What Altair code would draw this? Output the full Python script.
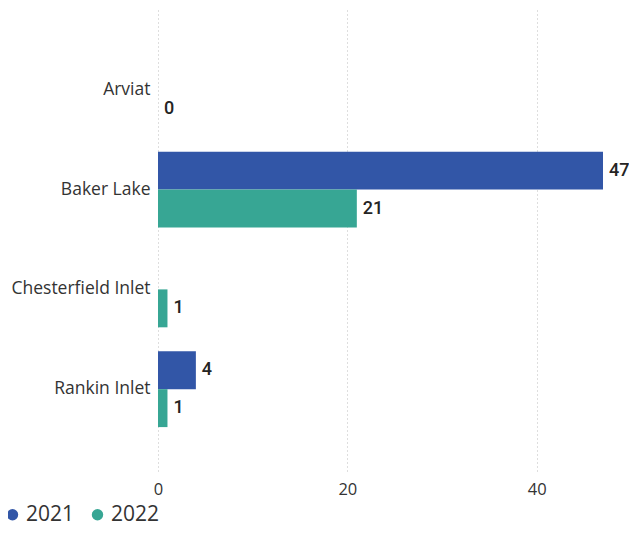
import altair as alt
import pandas as pd

towns = ["Arviat", "Baker Lake", "Chesterfield Inlet", "Rankin Inlet"]
years = ["2021", "2022"]
v2021 = [None, 47, None, 4]
v2022 = [0, 21, 1, 1]
x_ticks = [0, 20, 40]
colors = ["#3256A7", "#37A694"]

rows = []
for t, a, b in zip(towns, v2021, v2022):
    if a is not None:
        rows.append({"town": t, "year": "2021", "value": a})
    if b is not None:
        rows.append({"town": t, "year": "2022", "value": b})
df = pd.DataFrame(rows)

font = "Open Sans"

y = alt.Y("town:N", sort=towns, title=None,
          scale=alt.Scale(paddingInner=0.24, paddingOuter=0.44),
          axis=alt.Axis(domain=False, ticks=False, labelFontSize=17.5, labelColor="#333333",
                        labelFont=font, labelPadding=8, grid=False))
yo = alt.YOffset("year:N", sort=years, scale=alt.Scale(domain=years, paddingInner=0, paddingOuter=0))
x = alt.X("value:Q", title=None,
          scale=alt.Scale(domain=[0, 47], nice=False),
          axis=alt.Axis(values=x_ticks, domain=False, ticks=False, labelFontSize=16.5,
                        labelColor="#333333", labelFont=font, labelPadding=10,
                        grid=True, gridColor="#BDBDBD", gridDash=[1, 3], labelFlush=False))
color = alt.Color("year:N", sort=years,
                  scale=alt.Scale(domain=years, range=colors),
                  legend=alt.Legend(title=None, orient="none", direction="horizontal",
                                    legendX=-156, legendY=496, symbolType="circle",
                                    symbolSize=130, labelFontSize=21, labelFont=font,
                                    labelColor="#333333", columnPadding=12, symbolOffset=0,
                                    labelOffset=3, padding=0))

bars = alt.Chart(df).mark_bar().encode(y=y, yOffset=yo, x=x, color=color)
labels = alt.Chart(df).mark_text(align="left", baseline="middle", dx=6, fontSize=18,
                                 font="Roboto", fontWeight=500, color="#252423").encode(
    y=alt.Y("town:N", sort=towns), yOffset=alt.YOffset("year:N", sort=years),
    x="value:Q", text="value:Q")

chart = (bars + labels).properties(
    width=445, height=463,
    autosize=alt.AutoSizeParams(type="none"),
    padding={"left": 150, "top": 0, "right": 26, "bottom": 56},
).configure_view(stroke=None)

chart.save("out.html", embed_options={"renderer": "svg", "actions": False})
